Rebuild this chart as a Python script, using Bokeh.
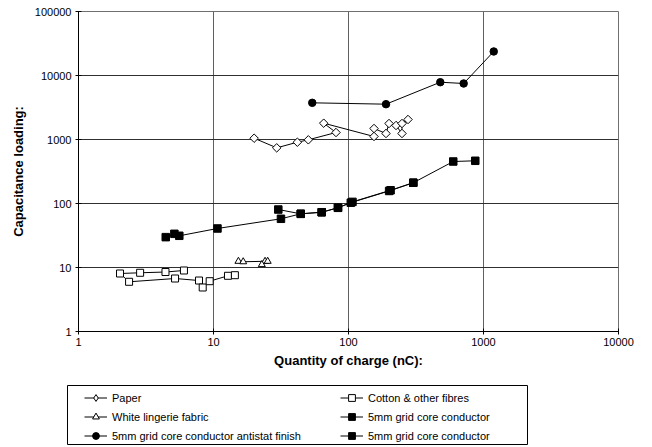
import numpy as np
from bokeh.plotting import figure
from bokeh.layouts import column
from bokeh.models import (Range1d, FixedTicker, PrintfTickFormatter, Legend,
                          LegendItem)
from bokeh.embed import file_html
from bokeh.resources import INLINE

# ---------------- data ----------------
x_ticks = [1, 10, 100, 1000, 10000]
y_ticks = [1, 10, 100, 1000, 10000, 100000]

paper_x = [20, 29.4, 41.8, 50.4, 80.8, 65.5, 154.5, 154.5, 189.6, 199.6, 225, 249, 249, 276]
paper_y = [1047, 741, 907, 989, 1286, 1798, 1114, 1486, 1241, 1778, 1655, 1241, 1778, 2054]

cotton_x = [6.04, 4.41, 2.86, 2.03, 2.37, 5.19, 7.81, 8.32, 9.37, 12.8, 14.4]
cotton_y = [8.98, 8.5, 8.27, 8.06, 5.98, 6.73, 6.26, 4.87, 6.11, 7.42, 7.58]

lingerie_x = [15.3, 16.6, 24.1, 22.8, 25.2]
lingerie_y = [12.5, 12.3, 12.5, 11.1, 12.5]

grid_a_x = [4.43, 5.13, 5.58, 10.7, 31.6, 44.3, 63.3, 83.6, 104, 200, 302]
grid_a_y = [29.8, 33.6, 31.3, 40.7, 57.7, 69, 73, 85.7, 103, 157, 211]

antistat_x = [53.9, 189.6, 478.6, 713, 1191]
antistat_y = [3743, 3563, 7855, 7499, 23714]

grid_b_x = [30.2, 44.3, 63.3, 83.6, 107, 205, 302, 597, 869]
grid_b_y = [80.5, 69, 73, 85.7, 106, 161, 211, 453, 465]

labels = ["Paper", "Cotton & other fibres", "White lingerie fabric",
          "5mm grid core conductor", "5mm grid core conductor antistat finish",
          "5mm grid core conductor"]

FONT = "Liberation Sans"

# ---------------- main chart ----------------
p = figure(width=652, height=375, x_axis_type="log", y_axis_type="log",
           x_range=Range1d(1, 10000), y_range=Range1d(1, 100000),
           output_backend="svg", toolbar_location=None,
           min_border_left=78, min_border_right=34,
           min_border_top=11, min_border_bottom=44)
p.frame_align = False
p.background_fill_color = "white"
p.border_fill_color = "white"
p.outline_line_color = "#707070"

p.xaxis.ticker = FixedTicker(ticks=x_ticks)
p.yaxis.ticker = FixedTicker(ticks=y_ticks)
for ax in (p.xaxis[0], p.yaxis[0]):
    ax.formatter = PrintfTickFormatter(format="%d")
    ax.major_label_text_font = FONT
    ax.major_label_text_font_size = "11px"
    ax.major_label_text_color = "black"
    ax.axis_label_text_font = FONT
    ax.axis_label_text_font_style = "bold"
    ax.axis_label_text_font_size = "13px"
    ax.axis_label_text_color = "black"
    ax.minor_tick_line_color = None
    ax.major_tick_in = 3
    ax.major_tick_out = 3
    ax.axis_line_color = "black"
    ax.major_tick_line_color = "black"
p.xaxis.axis_label = "Quantity of charge (nC):"
p.yaxis.axis_label = "Capacitance loading:"
p.xaxis.major_label_standoff = 3
p.xaxis.axis_label_standoff = 4
p.yaxis.major_label_standoff = 4
p.yaxis.axis_label_standoff = 6

p.xgrid.grid_line_color = "#606060"
p.ygrid.grid_line_color = "#303030"
p.xgrid.minor_grid_line_color = None
p.ygrid.minor_grid_line_color = None

STYLES = {
    "paper": dict(marker="square", fill="white", size=6.0, angle=np.pi / 4),
    "cotton": dict(marker="square", fill="white", size=7.0, angle=0.0),
    "ling": dict(marker="triangle", fill="white", size=7.0, angle=0.0),
    "ga": dict(marker="square", fill="black", size=7.5, angle=0.0),
    "anti": dict(marker="circle", fill="black", size=7.5, angle=0.0),
    "gb": dict(marker="square", fill="black", size=7.5, angle=0.0),
}
# legend samples ignore the rotation angle, so the paper sample uses a diamond
LEGEND_MARKER = {"paper": "diamond"}

DATA = {
    "paper": (paper_x, paper_y),
    "cotton": (cotton_x, cotton_y),
    "ling": (lingerie_x, lingerie_y),
    "ga": (grid_a_x, grid_a_y),
    "anti": (antistat_x, antistat_y),
    "gb": (grid_b_x, grid_b_y),
}


def series(fig, key, legend_sample=False):
    x, y = DATA[key]
    st = STYLES[key]
    marker = st["marker"]
    angle = st["angle"]
    if legend_sample and key in LEGEND_MARKER:
        marker = LEGEND_MARKER[key]
        angle = 0.0
    ln = fig.line(x, y, line_color="black", line_width=1)
    sc = fig.scatter(x, y, marker=marker, size=st["size"], angle=angle,
                     fill_color=st["fill"], line_color="black", line_width=1)
    return [ln, sc]


keys = ["paper", "cotton", "ling", "ga", "anti", "gb"]
for k in keys:
    series(p, k)

# ---------------- legend panel (framed box below the chart) ----------------
# its ranges lie outside the data, so only the legend samples are visible
q = figure(width=652, height=72, x_range=Range1d(-2, -1), y_range=Range1d(-2, -1),
           x_axis_location=None, y_axis_location=None,
           output_backend="svg", toolbar_location=None,
           min_border_left=67, min_border_right=125,
           min_border_top=10, min_border_bottom=3)
q.frame_align = False
q.grid.visible = False
q.background_fill_color = "white"
q.border_fill_color = "white"
q.outline_line_color = "black"
q.outline_line_width = 1

leg_r = {k: series(q, k, legend_sample=True) for k in keys}


def make_legend(pairs, vx):
    items = [LegendItem(label=labels[i], renderers=leg_r[k]) for i, k in pairs]
    return Legend(items=items, location=(vx, 0), orientation="vertical",
                  glyph_width=23, glyph_height=17, label_height=17,
                  spacing=2, padding=0, margin=0, label_standoff=5,
                  border_line_color=None, background_fill_alpha=0,
                  label_text_font=FONT, label_text_font_size="11px",
                  label_text_color="black")


q.add_layout(make_legend([(0, "paper"), (2, "ling"), (4, "anti")], 17))
q.add_layout(make_legend([(1, "cotton"), (3, "ga"), (5, "gb")], 273))

layout = column(p, q, spacing=0)
open("out.html", "w").write(file_html(layout, INLINE))
